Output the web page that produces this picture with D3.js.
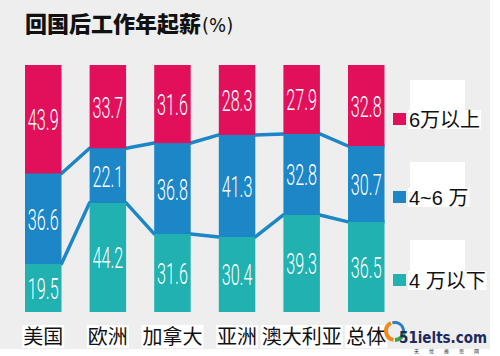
<!DOCTYPE html>
<html>
<head>
<meta charset="utf-8">
<script src="https://cdn.jsdelivr.net/npm/d3@7"></script>
<style>
  html, body { margin: 0; padding: 0; background: #ffffff; }
  svg { display: block; }
</style>
</head>
<body>
<script>
// ---- data ----
const categories = ["美国", "欧洲", "加拿大", "亚洲", "澳大利亚", "总体"];
const above6 = [43.9, 33.7, 31.6, 28.3, 27.9, 32.8];   // 6万以上
const mid46  = [36.6, 22.1, 36.8, 41.3, 32.8, 30.7];   // 4~6 万
const below4 = [19.5, 44.2, 31.6, 30.4, 39.3, 36.5];   // 4 万以下
const seriesKeys = ["below4", "mid46", "above6"];
const seriesLabels = ["4 万以下", "4~6 万", "6万以上"];
const titleText = "回国后工作年起薪";
const titleUnit = "(%)";

// ---- layout ----
const W = 500, H = 356;
const colors = { above6: "#e2105a", mid46: "#1d86c6", below4: "#20b1b0" };

const rows = categories.map((c, i) => ({ cat: c, below4: below4[i], mid46: mid46[i], above6: above6[i] }));
const stacked = d3.stack().keys(seriesKeys)(rows);

const x = d3.scaleBand().domain(categories).range([25, 384.5]).paddingInner(0.435).paddingOuter(0);
const y = d3.scaleLinear().domain([0, 100]).range([312, 65]);

const svg = d3.select("body").append("svg").attr("width", W).attr("height", H);

// background panel
svg.append("rect").attr("x", 0).attr("y", 0).attr("width", 490).attr("height", 349).attr("fill", "#eeeeee");

// title
const title = svg.append("text").attr("x", 25).attr("y", 32)
  .attr("font-family", "'Noto Sans CJK SC'").attr("font-size", 22).attr("fill", "#111");
title.append("tspan").attr("font-weight", 900).text(titleText);
title.append("tspan").attr("font-weight", 300).attr("font-family", "'DejaVu Sans Condensed', 'Noto Sans CJK SC'").attr("font-size", 20).attr("dx", 1).text(titleUnit);

// connecting lines (under bars)
const bw = x.bandwidth();
[0, 1].forEach(k => {
  const layer = stacked[k];
  const pts = [];
  layer.forEach((d, i) => {
    const x0 = x(categories[i]);
    pts.push([x0, y(d[1])]);
    pts.push([x0 + bw, y(d[1])]);
  });
  svg.append("path")
    .attr("d", d3.line()(pts))
    .attr("fill", "none")
    .attr("stroke", "#1d86c6")
    .attr("stroke-width", 3.5)
    .attr("stroke-linejoin", "round");
});

// bars
const layers = svg.selectAll("g.layer").data(stacked).join("g").attr("class", "layer")
  .attr("fill", d => colors[d.key]);
layers.selectAll("rect").data(d => d).join("rect")
  .attr("x", d => x(d.data.cat))
  .attr("y", d => y(d[1]))
  .attr("width", bw)
  .attr("height", d => y(d[0]) - y(d[1]));

// value labels
layers.each(function(layer) {
  d3.select(this).selectAll("text").data(layer).join("text")
    .attr("transform", d => `translate(${x(d.data.cat) + bw / 2},${(y(d[0]) + y(d[1])) / 2 + 11}) scale(0.54,1)`)
    .attr("text-anchor", "middle")
    .attr("font-family", "Roboto, 'Liberation Sans'")
    .attr("font-weight", 300)
    .attr("font-size", 30)
    .attr("fill", "#ffffff")
    .text(d => d.data[layer.key].toFixed(1));
});

// category labels with white backgrounds
const catG = svg.append("g");
categories.forEach(c => {
  const cx = x(c) + bw / 2;
  const t = catG.append("text").attr("x", cx).attr("y", 344)
    .attr("text-anchor", "middle")
    .attr("font-family", "'Noto Sans CJK SC'").attr("font-size", 20).attr("fill", "#111").text(c);
  const bb = t.node().getBBox();
  catG.insert("rect", "text").attr("x", bb.x - 1).attr("y", 325).attr("width", bb.width + 2).attr("height", 23).attr("fill", "#ffffff");
});

// legend
const legendTop = { above6: 80, mid46: 162, below4: 240 };
const legendBase = { above6: 127, mid46: 205, below4: 288 };
const legendG = svg.append("g");
seriesKeys.slice().reverse().forEach(k => {
  const label = seriesLabels[seriesKeys.indexOf(k)];
  const base = legendBase[k];
  legendG.append("rect").attr("x", 410).attr("y", legendTop[k]).attr("width", 55).attr("height", base - 17 - legendTop[k]).attr("fill", "#ffffff");
  const t = legendG.append("text").attr("x", 409).attr("y", base)
    .attr("font-family", "'Liberation Sans', 'Noto Sans CJK SC'").attr("font-size", 20).attr("fill", "#111").text(label);
  const bb = t.node().getBBox();
  legendG.insert("rect", "text").attr("x", 408).attr("y", base - 17).attr("width", bb.width + 2).attr("height", 19).attr("fill", "#ffffff");
  legendG.append("rect").attr("x", 393).attr("y", base - 14).attr("width", 13).attr("height", 12).attr("fill", colors[k]);
});

// watermark
const wm = svg.append("g");
const arc = d3.arc();
wm.append("path").attr("transform", "translate(395,331)")
  .attr("d", arc({ innerRadius: 7, outerRadius: 11, startAngle: -Math.PI * 0.95, endAngle: -Math.PI * 0.15 })).attr("fill", "#f08a1c");
wm.append("path").attr("transform", "translate(395,331)")
  .attr("d", arc({ innerRadius: 7, outerRadius: 11, startAngle: Math.PI * 0.55, endAngle: Math.PI * 1.0 })).attr("fill", "#3aa64a");
wm.append("path").attr("transform", "translate(395,331)")
  .attr("d", arc({ innerRadius: 7, outerRadius: 10, startAngle: -Math.PI * 0.1, endAngle: Math.PI * 0.5 })).attr("fill", "#2a7fc4");
wm.append("text").attr("x", 399).attr("y", 343)
  .attr("font-family", "'DejaVu Sans'").attr("font-weight", 700).attr("font-size", 15)
  .attr("textLength", 88).attr("lengthAdjust", "spacingAndGlyphs")
  .attr("fill", "#1c2a5e").text("51ielts.com");
wm.append("text").attr("x", 414).attr("y", 353)
  .attr("font-family", "'Noto Sans CJK SC'").attr("font-size", 5).attr("letter-spacing", 10).attr("fill", "#333").text("无忧雅思网");
</script>
</body>
</html>
